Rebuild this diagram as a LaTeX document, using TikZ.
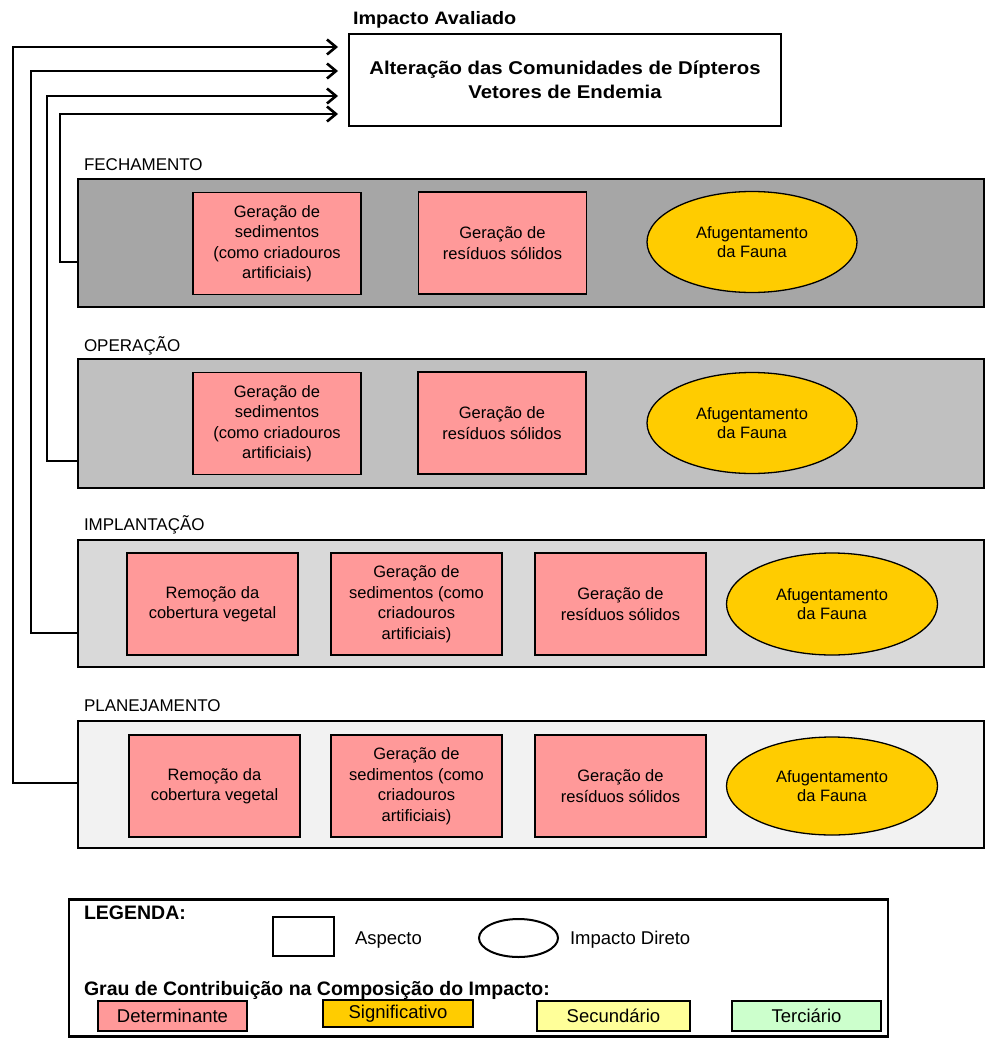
\documentclass[tikz,border=0pt]{standalone}
\usepackage{fontspec}
\setmainfont{Liberation Sans}
\newfontfamily\widefont{Liberation Sans}[FakeStretch=1.1]
\usetikzlibrary{arrows.meta,shapes.geometric}

\definecolor{det}{HTML}{FF9999}
\definecolor{sig}{HTML}{FFCC00}
\definecolor{sec}{HTML}{FFFF99}
\definecolor{ter}{HTML}{CCFFCC}
\definecolor{phaseA}{HTML}{A6A6A6}
\definecolor{phaseB}{HTML}{C0C0C0}
\definecolor{phaseC}{HTML}{D9D9D9}
\definecolor{phaseD}{HTML}{F2F2F2}

\tikzset{
  every node/.style={outer sep=0pt},
  phasebox/.style={draw, line width=2.6pt, minimum width=906pt, minimum height=128pt, inner sep=0pt},
  phaselabel/.style={anchor=west, inner sep=0pt, font=\fontsize{17}{20}\selectfont},
  aspect/.style={draw, line width=1.3pt, fill=det, inner sep=0pt, align=center,
    minimum height=102pt, font=\fontsize{16.5}{20.5}\selectfont},
  impact/.style={ellipse, draw, line width=1.3pt, fill=sig, inner sep=0pt, align=center,
    minimum width=210pt, minimum height=101pt, font=\fontsize{16.5}{19.5}\selectfont},
  conn/.style={line width=2.6pt, -{Straight Barb[length=9pt,width=15pt,line width=2.6pt]}},
  legtext/.style={anchor=west, inner sep=0pt, font=\fontsize{18.5}{22}\selectfont},
  legbold/.style={anchor=west, inner sep=0pt, font=\fontsize{19.5}{22}\selectfont\bfseries},
  grade/.style={draw, line width=1.6pt, inner sep=0pt, minimum width=150pt,
    minimum height=30pt, font=\fontsize{18.5}{22}\selectfont}
}

\begin{document}
\begin{tikzpicture}[x=1pt,y=-1pt]
\useasboundingbox (0,0) rectangle (989,1038);

% assessed impact
\node[anchor=west, inner sep=0pt, font=\widefont\fontsize{18}{22}\selectfont\bfseries] (impttl) at (353,20) {Impacto Avaliado};
\node[draw, line width=2.6pt, minimum width=432pt, minimum height=92pt, inner sep=0pt, align=center,
  font=\widefont\fontsize{18.5}{24.5}\selectfont\bfseries] (top) at (565,80)
  {Alteração das Comunidades de Dípteros\\Vetores de Endemia};
\coordinate (t1) at (338,47);
\coordinate (t2) at (338,71);
\coordinate (t3) at (338,96);
\coordinate (t4) at (338,114);

% FECHAMENTO
\node[phaselabel] (lfech) at (84,165) {FECHAMENTO};
\node[phasebox, fill=phaseA] (fech) at (531,243) {};
\node[aspect, minimum width=168pt] (f1) at (277,243.5) {Geração de\\sedimentos\\(como criadouros\\artificiais)};
\node[aspect, minimum width=168pt] (f2) at (502.5,243) {Geração de\\resíduos sólidos};
\node[impact] (f3) at (752,242) {Afugentamento\\da Fauna};

% OPERAÇÃO
\node[phaselabel] (loper) at (84,346) {OPERAÇÃO};
\node[phasebox, fill=phaseB, minimum height=129pt] (oper) at (531,423.5) {};
\node[aspect, minimum width=168pt] (o1) at (277,423.5) {Geração de\\sedimentos\\(como criadouros\\artificiais)};
\node[aspect, minimum width=168pt] (o2) at (502,423) {Geração de\\resíduos sólidos};
\node[impact] (o3) at (752,423) {Afugentamento\\da Fauna};

% IMPLANTAÇÃO
\node[phaselabel] (limpl) at (84,525) {IMPLANTAÇÃO};
\node[phasebox, fill=phaseC, minimum height=127pt] (impl) at (531,603.5) {};
\node[aspect, minimum width=171pt] (i1) at (212.5,604) {Remoção da\\cobertura vegetal};
\node[aspect, minimum width=171pt] (i2) at (416.5,604) {Geração de\\sedimentos (como\\criadouros\\artificiais)};
\node[aspect, minimum width=171pt] (i3) at (620.5,604) {Geração de\\resíduos sólidos};
\node[impact, minimum width=211pt, minimum height=102pt] (i4) at (832,604) {Afugentamento\\da Fauna};

% PLANEJAMENTO
\node[phaselabel] (lplan) at (84,706) {PLANEJAMENTO};
\node[phasebox, fill=phaseD, minimum height=127pt] (plan) at (531,784.5) {};
\node[aspect, minimum width=171pt] (p1) at (214.5,786) {Remoção da\\cobertura vegetal};
\node[aspect, minimum width=171pt] (p2) at (416.5,786) {Geração de\\sedimentos (como\\criadouros\\artificiais)};
\node[aspect, minimum width=171pt] (p3) at (620.5,786) {Geração de\\resíduos sólidos};
\node[impact, minimum width=211pt, minimum height=98pt] (p4) at (832,786) {Afugentamento\\da Fauna};

% connectors from each phase to the assessed impact
\draw[conn] ([yshift=-19pt]fech.west) -- ++(-18,0) |- (t4);
\draw[conn] ([yshift=-37.5pt]oper.west) -- ++(-31,0) |- (t3);
\draw[conn] ([yshift=-29.5pt]impl.west) -- ++(-47,0) |- (t2);
\draw[conn] ([yshift=1.5pt]plan.west) -- ++(-65,0) |- (t1);

% legend
\node[draw, line width=2.6pt, minimum width=819pt, minimum height=137pt, inner sep=0pt] (leg) at (478.5,968) {};
\node[legbold] (legt) at (84,913) {LEGENDA:};
\node[draw, line width=2pt, minimum width=61pt, minimum height=39pt, inner sep=0pt] (lsq) at (303.5,936.5) {};
\node[legtext] (lsqt) at (355,940) {Aspecto};
\node[ellipse, draw, line width=2pt, minimum width=79pt, minimum height=38pt, inner sep=0pt] (lel) at (518.5,938) {};
\node[legtext] (lelt) at (570,940) {Impacto Direto};
\node[legbold] (lgrau) at (84,990) {Grau de Contribuição na Composição do Impacto:};
\node[grade, fill=det, minimum width=149pt] (gdet) at (172.5,1016) {Determinante};
\node[grade, fill=sig, minimum height=27pt] (gsig) at (398,1013.5) {Significativo};
\node[grade, fill=sec, minimum width=153pt] (gsec) at (613.5,1016) {Secundário};
\node[grade, fill=ter, minimum width=149pt] (gter) at (806.5,1016) {Terciário};
\end{tikzpicture}
\end{document}
